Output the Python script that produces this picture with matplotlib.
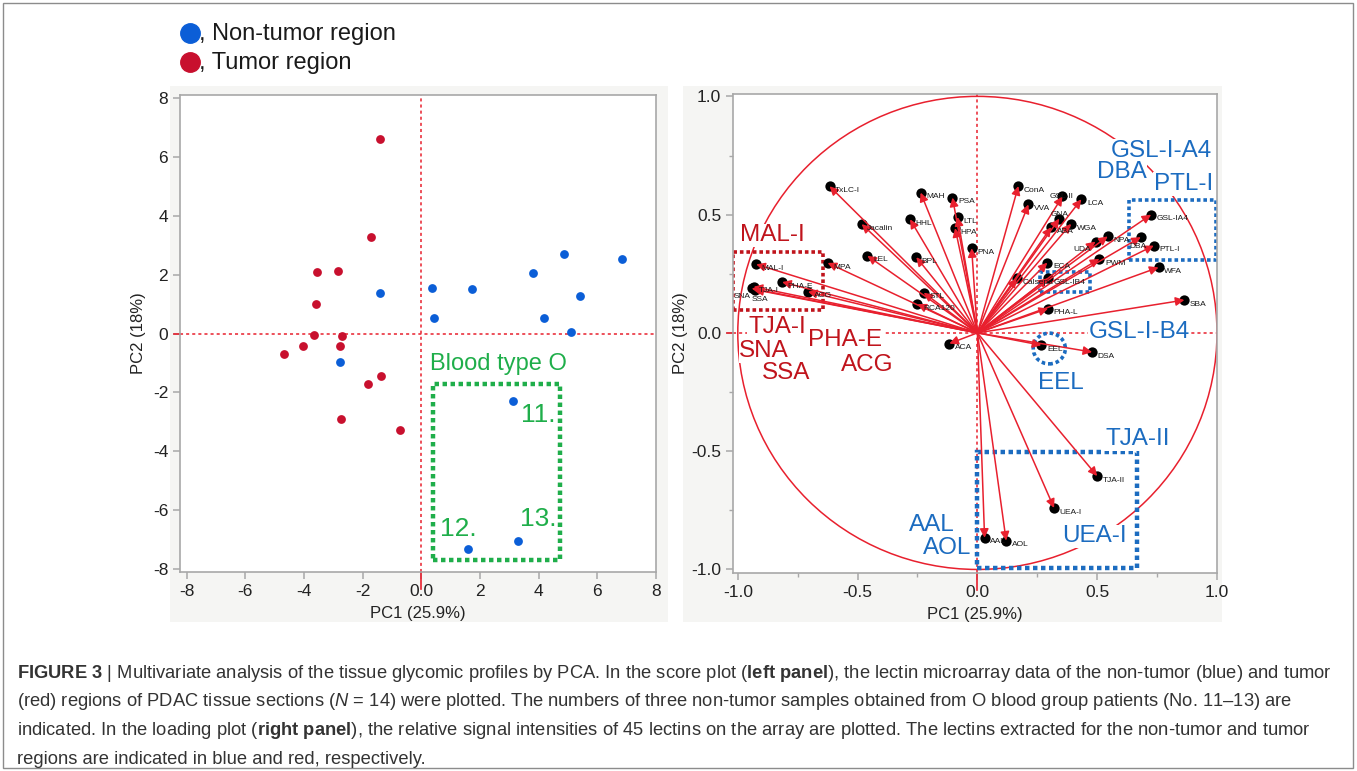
import matplotlib
matplotlib.use("Agg")
import matplotlib.pyplot as plt
from matplotlib.patches import Rectangle, Circle, Ellipse
from matplotlib.lines import Line2D
from matplotlib.ticker import MultipleLocator, FormatStrFormatter

plt.rcParams['font.family'] = ['Liberation Sans', 'DejaVu Sans']
plt.rcParams['axes.unicode_minus'] = False
plt.rcParams['mathtext.fontset'] = 'custom'
plt.rcParams['mathtext.rm'] = 'Liberation Sans'
plt.rcParams['mathtext.bf'] = 'Liberation Sans:bold'
plt.rcParams['mathtext.it'] = 'Liberation Sans:italic'

# score plot (left panel)
tumor_pc1 = [-1.41, -1.73, -3.57, -2.85, -3.59, -3.66, -2.69, -4.05, -4.69, -2.78, -1.39, -1.82, -2.75, -0.73]
tumor_pc2 = [6.60, 3.27, 2.10, 2.13, 1.00, -0.05, -0.09, -0.43, -0.68, -0.41, -1.44, -1.72, -2.89, -3.29]
nontumor_pc1 = [-1.40, -2.78, 0.35, 0.43, 1.73, 3.80, 4.88, 6.84, 5.42, 4.18, 5.09, 3.11, 3.28, 1.59]
nontumor_pc2 = [1.38, -0.95, 1.54, 0.53, 1.51, 2.07, 2.72, 2.55, 1.29, 0.52, 0.05, -2.28, -7.04, -7.32]
sample_no = ['11.', '13.', '12.']
sample_xy = [(3.4, -2.75), (3.35, -6.3), (0.65, -6.65)]

# loading plot (right panel)
lectins = ['TxLC-I', 'MAH', 'PSA', 'LTL', 'HPA', 'HHL', 'Jacalin', 'PNA', 'LEL', 'BPL',
           'MPA', 'MAL-I', 'PHA-E', 'TJA-I', 'SNA', 'SSA', 'ACG', 'STL', 'RCA120', 'ACA',
           'ConA', 'VVA', 'GSL-II', 'LCA', 'GNA', 'ABA', 'WGA', 'UDA', 'NPA', 'DBA',
           'GSL-IA4', 'PTL-I', 'PWM', 'WFA', 'SBA', 'ECA', 'Calsepa', 'GSL-IB4', 'PHA-L', 'EEL',
           'DSA', 'TJA-II', 'UEA-I', 'AAL', 'AOL']
load_pc1 = [-0.617, -0.237, -0.104, -0.083, -0.093, -0.281, -0.483, -0.024, -0.459, -0.255,
            -0.625, -0.923, -0.815, -0.934, -0.942, -0.930, -0.707, -0.224, -0.250, -0.117,
            0.171, 0.213, 0.355, 0.434, 0.342, 0.308, 0.391, 0.493, 0.544, 0.682,
            0.725, 0.736, 0.509, 0.756, 0.864, 0.292, 0.164, 0.294, 0.295, 0.267,
            0.479, 0.500, 0.320, 0.030, 0.120]
load_pc2 = [0.620, 0.593, 0.572, 0.490, 0.443, 0.480, 0.460, 0.358, 0.326, 0.320,
            0.296, 0.290, 0.215, 0.195, 0.188, 0.183, 0.174, 0.170, 0.122, -0.045,
            0.621, 0.543, 0.577, 0.565, 0.483, 0.447, 0.461, 0.386, 0.408, 0.405,
            0.500, 0.369, 0.313, 0.277, 0.139, 0.297, 0.231, 0.231, 0.103, -0.052,
            -0.081, -0.605, -0.740, -0.866, -0.878]
blue_labels = ['GSL-I-A4', 'DBA', 'PTL-I', 'GSL-I-B4', 'EEL', 'TJA-II', 'UEA-I', 'AAL', 'AOL']
blue_xy = [(0.767, 0.769), (0.603, 0.68), (0.86, 0.63), (0.675, 0.005), (0.35, -0.21),
           (0.668, -0.448), (0.49, -0.86), (-0.19, -0.81), (-0.127, -0.91)]
red_labels = ['MAL-I', 'TJA-I', 'SNA', 'SSA', 'PHA-E', 'ACG']
red_xy = [(-0.855, 0.412), (-0.836, 0.025), (-0.89, -0.076), (-0.80, -0.17), (-0.553, -0.03), (-0.458, -0.136)]

RED_PT = '#c8102e'
BLUE_PT = '#0b5ed7'
LINE_RED = '#e8202e'
LBL_BLUE = '#1c6cc0'
LBL_RED = '#c0141c'
GREEN = '#1fae4a'
FRAME = '#a8a8a8'

fig = plt.figure(figsize=(13.57, 7.71), dpi=100)
W, H = 1357.0, 771.0

def fx(px):
    return px / W

def fy(py):
    return 1 - py / H

# light grey panel backgrounds and outer border
for x0, x1 in [(170, 668), (683, 1222)]:
    fig.patches.append(Rectangle((fx(x0), fy(622)), fx(x1) - fx(x0), fy(86) - fy(622),
                                 transform=fig.transFigure, fc='#f5f5f3', ec='none', zorder=-5))
fig.patches.append(Rectangle((fx(3), fy(768)), fx(1353) - fx(3), fy(3) - fy(768),
                             transform=fig.transFigure, fill=False, ec='#8c8c8c', lw=1, zorder=-5))

# legend at top
for py, c, t in [(33, BLUE_PT, ', Non-tumor region'), (62, RED_PT, ', Tumor region')]:
    fig.add_artist(Line2D([fx(190)], [fy(py)], marker='o', ms=14, color=c, transform=fig.transFigure))
    fig.text(fx(199), fy(py + 1), t, fontsize=17, va='center', ha='left', color='#1a1a1a')

def style_axes(ax):
    ax.set_facecolor('white')
    for s in ax.spines.values():
        s.set_color(FRAME)
        s.set_linewidth(1.2)
    ax.tick_params(which='both', direction='out', color=FRAME, labelsize=12.5, labelcolor='#222222')
    ax.tick_params(which='major', length=5, width=1.1)
    ax.tick_params(which='minor', length=3, width=1)

def zero_lines(ax, xlo, ylo):
    ax.axvline(0, color=LINE_RED, lw=1.1, ls=(0, (2, 2)), zorder=1)
    ax.axhline(0, color=LINE_RED, lw=1.1, ls=(0, (2, 2)), zorder=1)
    ax.plot([0, 0], [ylo, ylo - 0.035 * (ax.get_ylim()[1] - ylo)], color=LINE_RED, lw=1.2, clip_on=False)
    ax.plot([xlo, xlo - 0.012 * (ax.get_xlim()[1] - xlo)], [0, 0], color=LINE_RED, lw=1.2, clip_on=False)

# ---- left panel
ax1 = fig.add_axes([fx(180), fy(572), fx(656) - fx(180), fy(95) - fy(572)])
ax1.set_xlim(-8.23, 8.0)
ax1.set_ylim(-8.1, 8.11)
style_axes(ax1)
ax1.set_xticks(range(-8, 9, 2))
ax1.set_xticklabels(['-8', '-6', '-4', '-2', '0.0', '2', '4', '6', '8'])
ax1.set_yticks(range(-8, 9, 2))
zero_lines(ax1, -8.23, -8.1)
ax1.scatter(tumor_pc1, tumor_pc2, s=40, color=RED_PT, zorder=3, linewidths=0)
ax1.scatter(nontumor_pc1, nontumor_pc2, s=40, color=BLUE_PT, zorder=3, linewidths=0)
ax1.add_patch(Rectangle((0.40, -7.68), 4.34, 5.96, fill=False, ec=GREEN, lw=3.2,
                        ls=(0, (1, 0.8)), zorder=2))
ax1.text(0.30, -1.02, 'Blood type O', color=GREEN, fontsize=17, ha='left', va='center')
for t, (x, y) in zip(sample_no, sample_xy):
    ax1.text(x, y, t, color=GREEN, fontsize=19, ha='left', va='center')
ax1.set_xlabel('PC1 (25.9%)', fontsize=12, labelpad=5, color='#222222')
ax1.set_ylabel('PC2 (18%)', fontsize=12, labelpad=5, color='#222222')

# ---- right panel
ax2 = fig.add_axes([fx(733), fy(573), fx(1217) - fx(733), fy(94) - fy(573)])
ax2.set_xlim(-1.02, 1.0)
ax2.set_ylim(-1.015, 1.01)
style_axes(ax2)
ax2.xaxis.set_major_locator(MultipleLocator(0.5))
ax2.xaxis.set_minor_locator(MultipleLocator(0.25))
ax2.yaxis.set_major_locator(MultipleLocator(0.5))
ax2.yaxis.set_minor_locator(MultipleLocator(0.25))
ax2.xaxis.set_major_formatter(FormatStrFormatter('%.1f'))
ax2.yaxis.set_major_formatter(FormatStrFormatter('%.1f'))
zero_lines(ax2, -1.02, -1.015)
ax2.add_patch(Circle((0, 0), 1.0, fill=False, ec=LINE_RED, lw=1.1, zorder=1))

ax2.scatter(load_pc1, load_pc2, s=55, color='black', zorder=3, linewidths=0)
for x, y in zip(load_pc1, load_pc2):
    ax2.annotate('', xy=(x, y), xytext=(0, 0),
                 arrowprops=dict(arrowstyle='-|>', color=LINE_RED, lw=1.1, mutation_scale=13,
                                 shrinkA=0, shrinkB=0), zorder=4)

special = {'SNA': ((-1, -6), 'right'), 'SSA': ((-2, -7), 'left'), 'UDA': ((-3, -6), 'right'),
           'GNA': ((-6, 3), 'left'), 'GSL-II': ((-9, 0), 'left'), 'DBA': ((-2, -7), 'center')}
for name, x, y in zip(lectins, load_pc1, load_pc2):
    off, ha = special.get(name, ((4, -3), 'left'))
    ax2.annotate(name, (x, y), xytext=off, textcoords='offset points', fontsize=6,
                 ha=ha, va='center', color='#1a1a1a', zorder=5)

# extracted-lectin boxes
dots = (0, (1, 0.8))
ax2.add_patch(Rectangle((-1.02, 0.096), 0.374, 0.245, fill=False, ec=LBL_RED, lw=2.6, ls=dots, zorder=2))
ax2.add_patch(Rectangle((0.632, 0.31), 0.365, 0.253, fill=False, ec=LBL_BLUE, lw=2.6, ls=dots, zorder=2))
ax2.add_patch(Rectangle((0.263, 0.171), 0.205, 0.085, fill=False, ec=LBL_BLUE, lw=2.6, ls=dots, zorder=2))
ax2.add_patch(Rectangle((0.0, -0.994), 0.665, 0.49, fill=False, ec=LBL_BLUE, lw=3.2, ls=dots, zorder=2))
ax2.add_patch(Ellipse((0.30, -0.066), 0.134, 0.13, fill=False, ec=LBL_BLUE, lw=2.6, ls=dots, zorder=2))

for t, (x, y) in zip(blue_labels, blue_xy):
    ax2.text(x, y, t, color=LBL_BLUE, fontsize=17.5, ha='center', va='center', zorder=6,
             bbox=dict(fc='white', ec='none', pad=0.5))
for t, (x, y) in zip(red_labels, red_xy):
    ax2.text(x, y, t, color=LBL_RED, fontsize=17.5, ha='center', va='center', zorder=6,
             bbox=dict(fc='white', ec='none', pad=0.5))

ax2.set_xlabel('PC1 (25.9%)', fontsize=12, labelpad=5, color='#222222')
ax2.set_ylabel('PC2 (18%)', fontsize=12, labelpad=2, color='#222222')

# caption
caption = [
    r"$\mathbf{FIGURE\ 3}$ | Multivariate analysis of the tissue glycomic profiles by PCA. In the score plot ($\mathbf{left\ panel}$), the lectin microarray data of the non-tumor (blue) and tumor",
    r"(red) regions of PDAC tissue sections ($\mathit{N}$ = 14) were plotted. The numbers of three non-tumor samples obtained from O blood group patients (No. 11–13) are",
    r"indicated. In the loading plot ($\mathbf{right\ panel}$), the relative signal intensities of 45 lectins on the array are plotted. The lectins extracted for the non-tumor and tumor",
    "regions are indicated in blue and red, respectively.",
]
for i, line in enumerate(caption):
    fig.text(fx(17), fy(673 + 28.7 * i), line, fontsize=13.2, ha='left', va='center', color='#333333')

fig.savefig('out.png', dpi=100)
